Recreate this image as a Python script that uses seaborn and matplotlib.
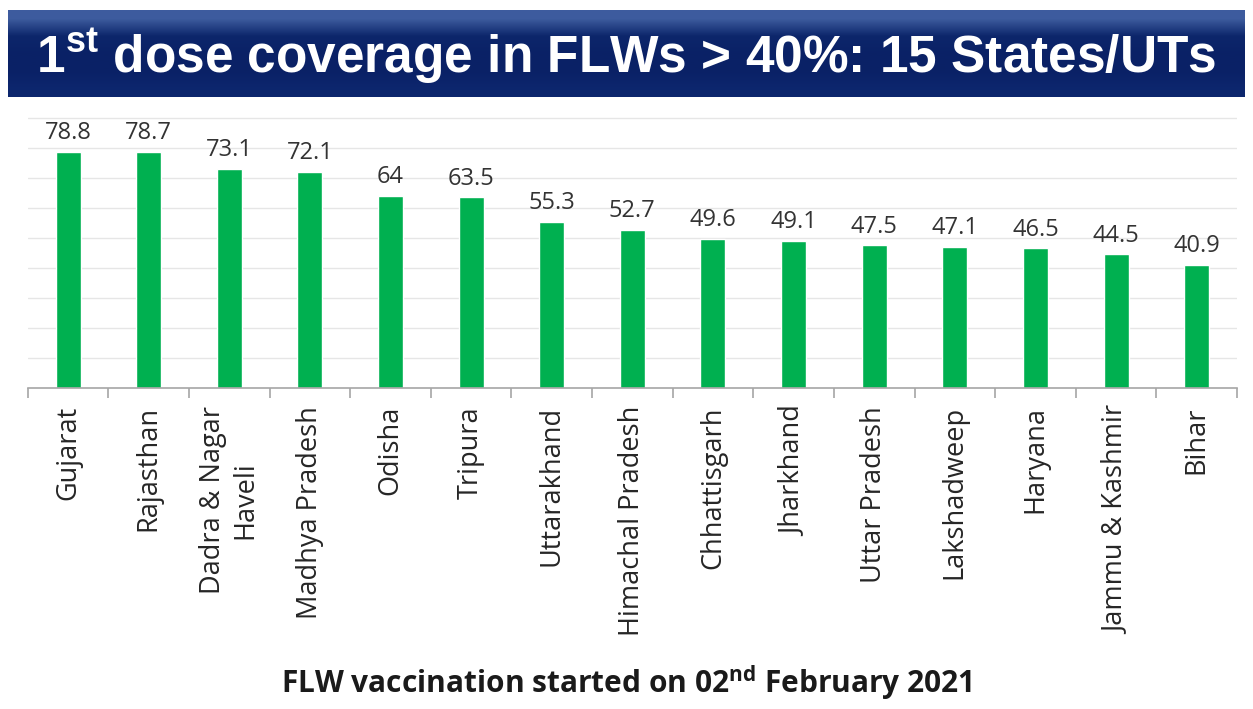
import numpy as np
import pandas as pd
import seaborn as sns
import matplotlib.pyplot as plt

states = ["Gujarat", "Rajasthan", "Dadra & Nagar\nHaveli", "Madhya Pradesh", "Odisha",
          "Tripura", "Uttarakhand", "Himachal Pradesh", "Chhattisgarh", "Jharkhand",
          "Uttar Pradesh", "Lakshadweep", "Haryana", "Jammu & Kashmir", "Bihar"]
coverage = [78.8, 78.7, 73.1, 72.1, 64, 63.5, 55.3, 52.7, 49.6, 49.1, 47.5, 47.1, 46.5, 44.5, 40.9]
value_labels = ["78.8", "78.7", "73.1", "72.1", "64", "63.5", "55.3", "52.7", "49.6",
                "49.1", "47.5", "47.1", "46.5", "44.5", "40.9"]

df = pd.DataFrame({"state": states, "coverage": coverage})

sns.set_style("white")
plt.rcParams['font.family'] = ['Open Sans', 'DejaVu Sans']

fig = plt.figure(figsize=(12.53, 7.09), dpi=100)
W, H = 1253, 709

# title banner
bax = fig.add_axes([8 / W, 1 - 97 / H, 1237 / W, 87 / H])
grad = np.array([[0.24, 0.36, 0.62], [0.05, 0.15, 0.42], [0.04, 0.13, 0.40],
                 [0.04, 0.13, 0.40], [0.05, 0.15, 0.43]])
bax.imshow(grad.reshape(-1, 1, 3), aspect="auto", extent=[0, 1, 0, 1],
           interpolation="bilinear")
bax.set_axis_off()
fig.text(0.5, 1 - 56 / H, r"1$^{\mathregular{st}}$ dose coverage in FLWs > 40%: 15 States/UTs",
         ha="center", va="center", color="white", fontsize=37, fontweight="bold",
         family="Liberation Sans")

ax = fig.add_axes([27.7 / W, 1 - 388 / H, (1237 - 27.7) / W, 273 / H])
sns.barplot(data=df, x="state", y="coverage", color="#00b050", width=0.31,
            saturation=1, ax=ax)
ax.set_ylim(0, 91)
ax.set_xlim(-0.5, len(states) - 0.5)
ax.set_yticks(range(10, 100, 10))
ax.yaxis.grid(True, color="#e6e6e6", lw=1)
ax.set_axisbelow(True)
ax.tick_params(axis="y", left=False, labelleft=False)
for s in ["top", "right", "left"]:
    ax.spines[s].set_visible(False)
ax.spines["bottom"].set_color("#a6a6a6")
ax.spines["bottom"].set_linewidth(1.2)

ax.set_xticks(range(len(states)))
ax.set_xticklabels(states, rotation=90, fontsize=19.5, color="#262626",
                   multialignment="center")
ax.tick_params(axis="x", which="major", length=0, pad=13)
ax.set_xticks(np.arange(-0.5, len(states), 1), minor=True)
ax.tick_params(axis="x", which="minor", bottom=True, length=7, color="#a6a6a6",
               width=1.2, direction="out")
ax.set_xlabel("")
ax.set_ylabel("")

for i, (v, t) in enumerate(zip(coverage, value_labels)):
    ax.text(i, v + 2.3, t, ha="center", va="bottom", fontsize=17, color="#333333")

fig.text(0.5, 1 - 683 / H, r"FLW vaccination started on 02$^{\mathregular{nd}}$ February 2021",
         ha="center", va="center", fontsize=21.5, fontweight="bold", color="#1a1a1a")

fig.savefig("out.png", dpi=100)
